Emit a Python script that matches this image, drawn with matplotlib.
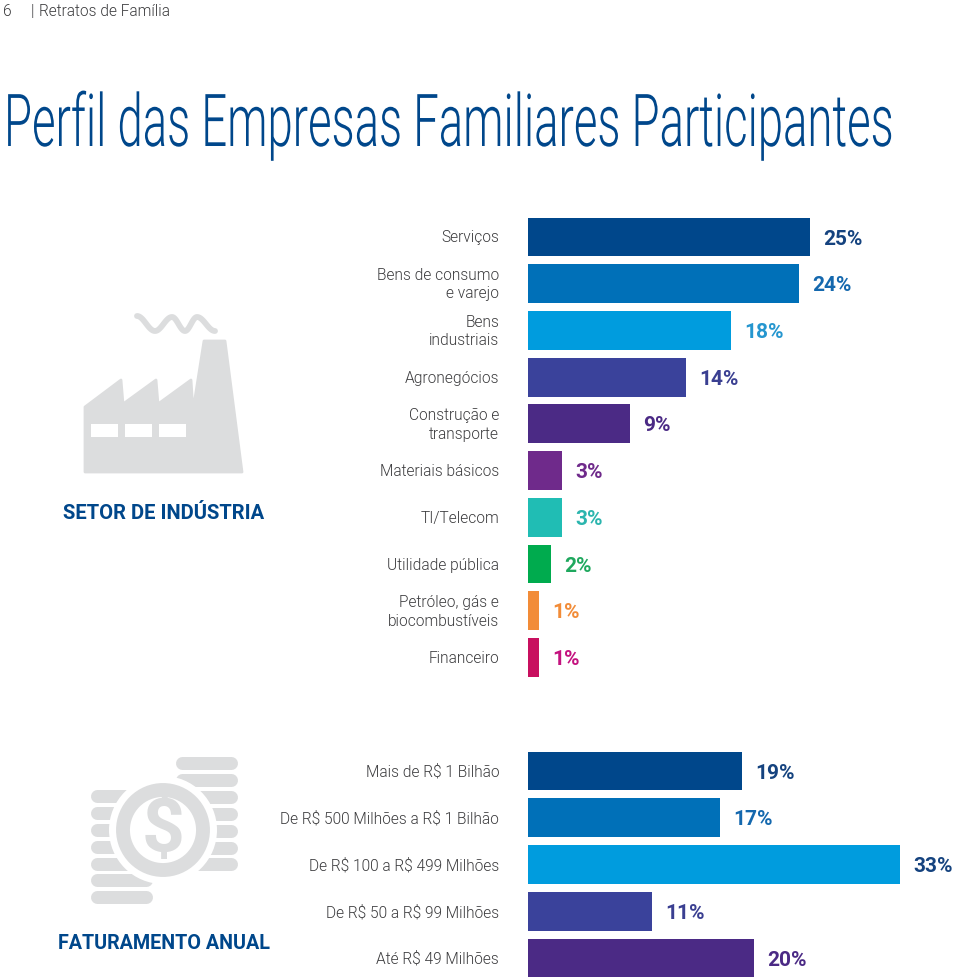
import numpy as np
import matplotlib
matplotlib.use("Agg")
import matplotlib.pyplot as plt
from matplotlib.patches import Polygon, Circle, Rectangle
from matplotlib.transforms import Affine2D
import matplotlib.patheffects as pe

sector_labels = ["Serviços", "Bens de consumo\ne varejo", "Bens\nindustriais", "Agronegócios",
                 "Construção e\ntransporte", "Materiais básicos", "TI/Telecom", "Utilidade pública",
                 "Petróleo, gás e\nbiocombustíveis", "Financeiro"]
sector_values = [25, 24, 18, 14, 9, 3, 3, 2, 1, 1]
sector_colors = ["#00478B", "#0070B8", "#009CDE", "#3A429B", "#4B2A85", "#6F2A8B", "#20BDB4", "#00AB4E", "#F28C38", "#C8105F"]
sector_label_colors = ["#15437F", "#1468AE", "#2596CF", "#3A3F91", "#4B2A85", "#6F2A8B", "#2BB5AE", "#1FA85E", "#F28C38", "#C4127F"]

revenue_labels = [r"Mais de R\$ 1 Bilhão", r"De R\$ 500 Milhões a R\$ 1 Bilhão", r"De R\$ 100 a R\$ 499 Milhões",
                  r"De R\$ 50 a R\$ 99 Milhões", r"Até R\$ 49 Milhões"]
revenue_values = [19, 17, 33, 11, 20]
revenue_colors = ["#00478B", "#0070B8", "#009CDE", "#3A429B", "#4B2A85"]
revenue_label_colors = ["#15437F", "#1468AE", "#15437F", "#3A3F91", "#4B2A85"]

W, H = 960, 979
LABEL_FONT = ["Roboto", "Liberation Sans", "DejaVu Sans"]
GRAY = "#DCDDDE"
NAVY = "#00478B"
TEXT = "#3C3C3E"
PX_PER_UNIT = 11.28


class YStretch(pe.AbstractPathEffect):
    """Draws a real text object taller about its baseline, so that it reads as a condensed face."""
    def __init__(self, y0, sy):
        super().__init__()
        self.y0, self.sy = y0, sy

    def draw_path(self, renderer, gc, tpath, affine, rgbFace=None):
        t = affine + Affine2D().translate(0, -self.y0).scale(1, self.sy).translate(0, self.y0)
        renderer.draw_path(gc, tpath, t, rgbFace)


fig = plt.figure(figsize=(W / 100, H / 100), dpi=100, facecolor="white")

bg = fig.add_axes([0, 0, 1, 1], zorder=0)
bg.set_xlim(0, W)
bg.set_ylim(H, 0)
bg.axis("off")


def bar_panel(top, bottom, labels, values, colors, label_colors):
    n = len(values)
    ax = fig.add_axes([528 / W, 1 - bottom / H, (W - 528) / W, (bottom - top) / H], zorder=2)
    ax.patch.set_alpha(0)
    ax.barh(range(n), values, height=0.83, color=colors, linewidth=0)
    ax.set_ylim(n - 0.5, -0.5)
    ax.set_xlim(0, (W - 528) / PX_PER_UNIT)
    ax.set_yticks(range(n))
    ax.set_yticklabels(labels, fontsize=11.2, color=TEXT, family=LABEL_FONT, fontweight=300,
                       linespacing=1.3, ha="right", va="center")
    ax.tick_params(axis="y", length=0, pad=20.7)
    ax.xaxis.set_visible(False)
    for s in ax.spines.values():
        s.set_visible(False)
    for i, (v, c) in enumerate(zip(values, label_colors)):
        ax.annotate(f"{v}%", (v, i), xytext=(9.5, -0.8), textcoords="offset points", va="center",
                    ha="left", fontsize=15, fontweight="bold", color=c, family=LABEL_FONT, annotation_clip=False)
    return ax


bar_panel(214.6, 681.9, sector_labels, sector_values, sector_colors, sector_label_colors)
bar_panel(748.6, 982.4, revenue_labels, revenue_values, revenue_colors, revenue_label_colors)

# Header
bg.text(3, 11, "6", fontsize=11.2, color=TEXT, family=LABEL_FONT, fontweight=300, va="center")
bg.text(31, 11, "|", fontsize=11.2, color=TEXT, family=LABEL_FONT, fontweight=300, va="center")
bg.text(39, 11, "Retratos de Família", fontsize=11.2, color=TEXT, family=LABEL_FONT, fontweight=300, va="center")

# Title: sized to its real width, then drawn taller to the reference's letter height
TITLE_SIZE_TALL = 52.5
title = bg.text(4, 147, "Perfil das Empresas Familiares Participantes", fontsize=TITLE_SIZE_TALL, color=NAVY,
                family=LABEL_FONT, fontweight=300, va="baseline", ha="left")
fig.canvas.draw()
renderer = fig.canvas.get_renderer()
ratio = 889 / title.get_window_extent(renderer).width
title.set_fontsize(TITLE_SIZE_TALL * ratio)
baseline_px = H - 147
title.set_path_effects([YStretch(baseline_px, 1 / ratio)])

# Panel captions
bg.text(163.5, 513.5, "SETOR DE INDÚSTRIA", fontsize=14.5, fontweight="bold", color=NAVY,
        family=LABEL_FONT, ha="center", va="center")
bg.text(163.5, 943.5, "FATURAMENTO ANUAL", fontsize=14.2, fontweight="bold", color=NAVY,
        family=LABEL_FONT, ha="center", va="center")

# Factory icon
bg.add_patch(Polygon([(85, 408), (121, 381), (123, 405), (156, 381), (158, 405), (191, 381), (193, 412),
                      (204, 342), (225, 342), (242, 473), (85, 473)],
                     closed=True, fc=GRAY, ec=GRAY, lw=2, joinstyle="round"))
for x0 in (91, 125, 159):
    bg.add_patch(Rectangle((x0, 425), 27, 13, fc="white", ec="none"))
wave_x = np.array([137, 155, 172, 185, 197, 215.0])
wave_y = np.array([317, 332, 318, 332, 318, 332.0])
sx, sy = [], []
for i in range(len(wave_x) - 1):
    t = np.linspace(0, 1, 20)
    sx.append(wave_x[i] + (wave_x[i + 1] - wave_x[i]) * t)
    sy.append(wave_y[i] + (wave_y[i + 1] - wave_y[i]) * (1 - np.cos(np.pi * t)) / 2)
bg.plot(np.concatenate(sx), np.concatenate(sy), color=GRAY, lw=4.2, solid_capstyle="round")


# Coins icon
def pill(x0, x1, yc, h=13):
    bg.plot([x0 + h / 2, x1 - h / 2], [yc, yc], color=GRAY, lw=h * 0.72, solid_capstyle="round", zorder=1)


for yc in (764, 781, 798, 815, 832, 849, 865):
    pill(175, 237, yc)
for yc in (797, 814, 831, 848, 865, 881, 898):
    pill(90, 152, yc)
bg.add_patch(Circle((163, 831), 54, fc="white", ec="none", zorder=2))
bg.add_patch(Circle((163, 831), 40, fc="none", ec=GRAY, lw=10, zorder=3))
bg.text(163.5, 831, r"\$", fontsize=54, fontweight="bold", color=GRAY, family=LABEL_FONT,
        ha="center", va="center", zorder=4)

fig.savefig("out.png", dpi=100, facecolor="white")
